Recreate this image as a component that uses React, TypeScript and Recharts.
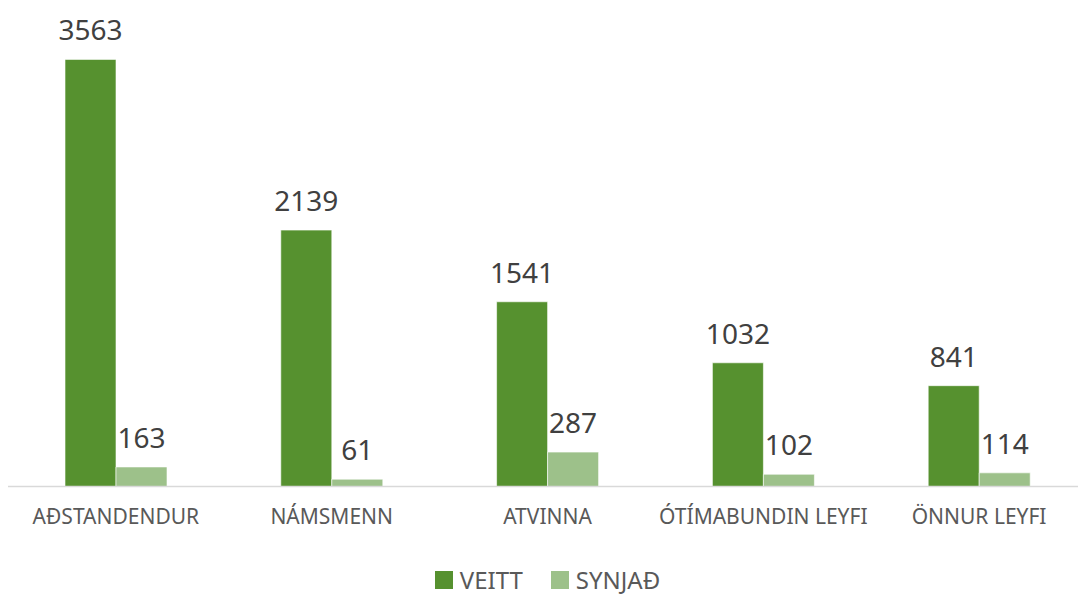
import { BarChart, Bar, XAxis, YAxis, Legend, LabelList } from 'recharts'

const categories = ['AÐSTANDENDUR', 'NÁMSMENN', 'ATVINNA', 'ÓTÍMABUNDIN LEYFI', 'ÖNNUR LEYFI']
const veitt = [3563, 2139, 1541, 1032, 841]
const synjad = [163, 61, 287, 102, 114]

const DARK = '#56912F'
const LIGHT = '#9DC18A'
const FONT = '"Noto Sans", "Open Sans", sans-serif'

const data = categories.map((name, i) => ({ name, veitt: veitt[i], synjad: synjad[i] }))

function LegendBox() {
  const items = [
    { label: 'VEITT', color: DARK },
    { label: 'SYNJAÐ', color: LIGHT },
  ]
  return (
    <div style={{ display: 'flex', justifyContent: 'center', gap: 28, fontFamily: FONT }}>
      {items.map(it => (
        <div key={it.label} style={{ display: 'flex', alignItems: 'center', gap: 7 }}>
          <div style={{ width: 18, height: 18, background: it.color }} />
          <span style={{ fontSize: 24, color: '#595959', lineHeight: '24px' }}>{it.label}</span>
        </div>
      ))}
    </div>
  )
}

export default function App() {
  return (
    <div style={{ position: 'fixed', left: 0, top: 0, width: 1078, height: 598, overflow: 'hidden', background: '#fff' }}>
      <BarChart
        width={1087}
        height={598}
        data={data}
        margin={{ top: 7, right: 0, left: 8, bottom: 81.5 }}
        barSize={51}
        barGap={0}
      >
        <XAxis
          dataKey="name"
          tickLine={false}
          tickSize={0}
          tickMargin={23}
          axisLine={{ stroke: '#d9d9d9', strokeWidth: 1.5 }}
          tick={{ fontSize: 21, fill: '#595959', fontFamily: FONT }}
          interval={0}
        />
        <YAxis hide domain={[0, 4000]} />
        <Legend
          verticalAlign="middle"
          layout="horizontal"
          content={<LegendBox />}
          wrapperStyle={{ top: 568, left: 8, width: 1079 }}
        />
        <Bar dataKey="veitt" name="VEITT" fill={DARK} stroke="#ffffff" strokeWidth={0.6} isAnimationActive={false}>
          <LabelList dataKey="veitt" position="top" offset={19} style={{ fontSize: 28, fill: '#404040', fontFamily: FONT }} />
        </Bar>
        <Bar dataKey="synjad" name="SYNJAÐ" fill={LIGHT} stroke="#ffffff" strokeWidth={0.6} isAnimationActive={false}>
          <LabelList dataKey="synjad" position="top" offset={19} style={{ fontSize: 28, fill: '#404040', fontFamily: FONT }} />
        </Bar>
      </BarChart>
    </div>
  )
}
